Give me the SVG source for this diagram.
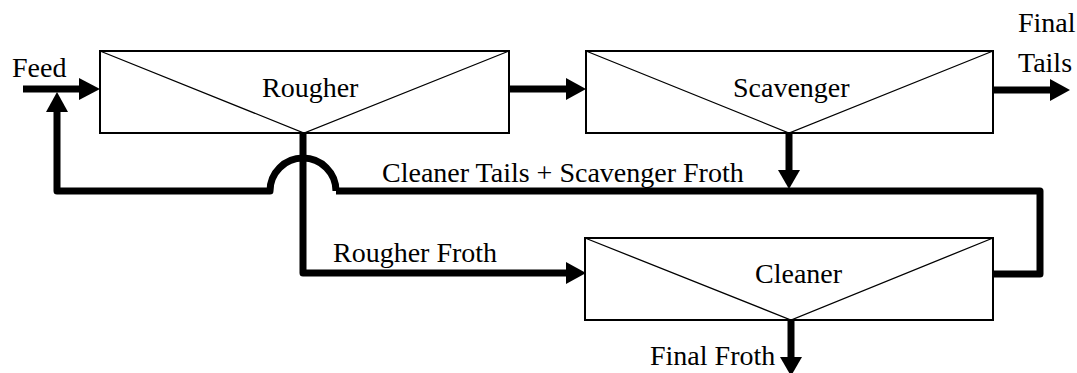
<svg xmlns="http://www.w3.org/2000/svg" width="1077" height="373" viewBox="0 0 1077 373">
<style>
.box{fill:#fff;stroke:#000;stroke-width:2}
.diag{fill:none;stroke:#000;stroke-width:1.3}
.flow{fill:none;stroke:#000;stroke-width:7;stroke-linejoin:round;stroke-linecap:butt}
.head{fill:#000}
text{font-family:"Liberation Serif","Times New Roman",serif;font-size:28px;fill:#000}
</style>
<rect width="1077" height="373" fill="#fff"/>
<g id="rougher">
<rect class="box" x="100" y="51" width="409" height="82"/>
<polyline class="diag" points="100,51 304,133 509,51"/>
<text x="262" y="97">Rougher</text>
</g>
<g id="scavenger">
<rect class="box" x="586" y="51" width="407" height="82"/>
<polyline class="diag" points="586,51 789,133 993,51"/>
<text x="733" y="97">Scavenger</text>
</g>
<g id="cleaner">
<rect class="box" x="585" y="238" width="408" height="82"/>
<polyline class="diag" points="585,238 791,320 993,238"/>
<text x="755" y="283">Cleaner</text>
</g>
<g id="labels">
<text x="12" y="77">Feed</text>
<text x="1018" y="32">Final</text>
<text x="1018" y="72">Tails</text>
<text x="382" y="182">Cleaner Tails + Scavenger Froth</text>
<text x="333" y="262">Rougher Froth</text>
<text x="650" y="365">Final Froth</text>
</g>
<g id="connectors">
<path class="flow" d="M23,89 H81"/>
<polygon class="head" points="79,78 100,89 79,100"/>
<path class="flow" d="M509,89 H567"/>
<polygon class="head" points="566,78 586,89 566,100"/>
<path class="flow" d="M993,90 H1051"/>
<polygon class="head" points="1050,79 1070,90 1050,101"/>
<path class="flow" d="M789,133 V171"/>
<polygon class="head" points="778,170 789,189 800,170"/>
<path class="flow" d="M336,191 H1040 V274 H993"/>
<path class="flow" d="M336,191 A33,33 0 0 0 270,191 H57 V111"/>
<polygon class="head" points="46,112 57,92 68,112"/>
<path class="flow" d="M303,133 V273 H567"/>
<polygon class="head" points="566,262 586,273 566,284"/>
<path class="flow" d="M791,320 V358"/>
<polygon class="head" points="780,357 791,376 802,357"/>
</g>
</svg>
